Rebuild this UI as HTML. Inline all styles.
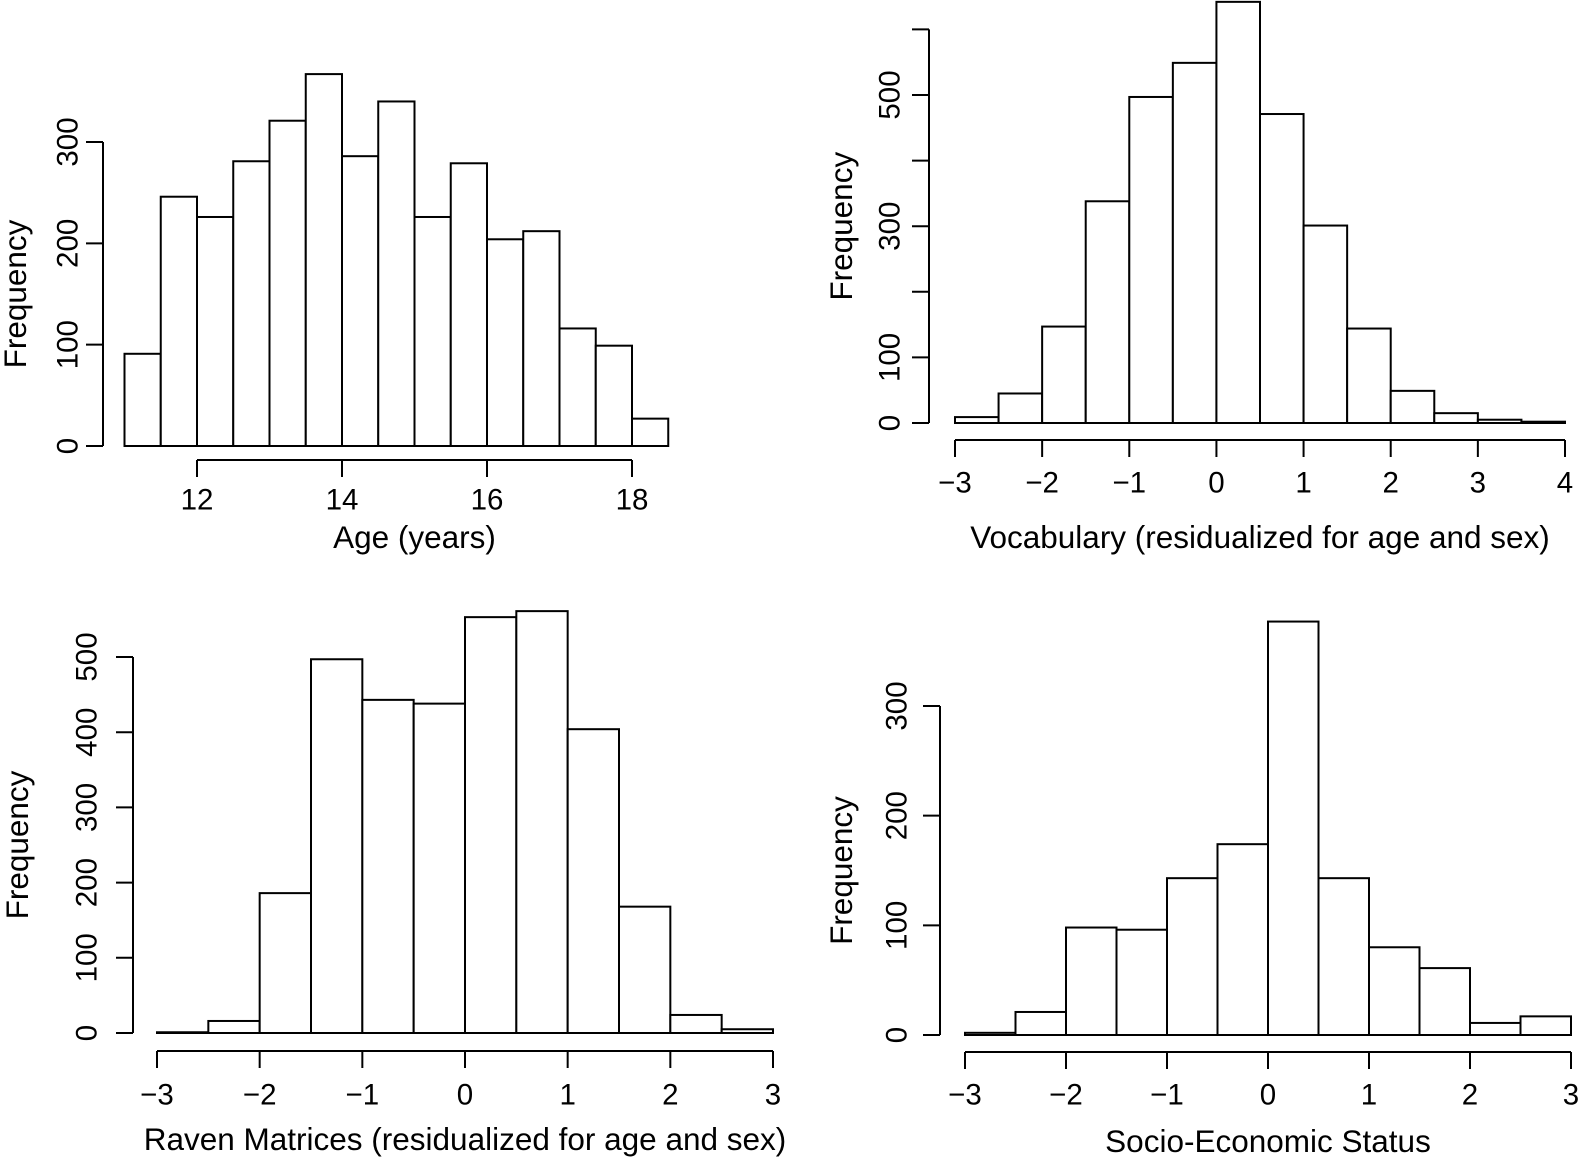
<!DOCTYPE html>
<html><head><meta charset="utf-8"><style>
html,body{margin:0;padding:0;background:#fff;}
svg{display:block;font-family:"Liberation Sans",Arial,sans-serif;}
text{font-size:29.5px;fill:#000;}
</style></head><body>
<svg id="s" width="1586" height="1158"></svg>
<script>
const ageBins=[11,11.5,12,12.5,13,13.5,14,14.5,15,15.5,16,16.5,17,17.5,18,18.5];
const ageCounts=[91,246,226,281,321,367,286,340,226,279,204,212,116,99,27];
const ageXTicks=[12,14,16,18];
const ageYTicks=[0,100,200,300];
const ageYLabels=[0,100,200,300];
const vocBins=[-3,-2.5,-2,-1.5,-1,-0.5,0,0.5,1,1.5,2,2.5,3,3.5,4];
const vocCounts=[9,45,147,338,497,549,642,471,301,144,49,15,5,2];
const vocXTicks=[-3,-2,-1,0,1,2,3,4];
const vocYTicks=[0,100,200,300,400,500,600];
const vocYLabels=[0,100,300,500];
const ravBins=[-3,-2.5,-2,-1.5,-1,-0.5,0,0.5,1,1.5,2,2.5,3];
const ravCounts=[1,16,186,497,443,438,553,561,404,168,24,5];
const ravXTicks=[-3,-2,-1,0,1,2,3];
const ravYTicks=[0,100,200,300,400,500];
const ravYLabels=[0,100,200,300,400,500];
const sesBins=[-3,-2.5,-2,-1.5,-1,-0.5,0,0.5,1,1.5,2,2.5,3];
const sesCounts=[2,21,98,96,143,174,377,143,80,61,11,17];
const sesXTicks=[-3,-2,-1,0,1,2,3];
const sesYTicks=[0,100,200,300];
const sesYLabels=[0,100,200,300];

const svg=document.getElementById('s');
const NS='http://www.w3.org/2000/svg';
function mk(tag,attrs,parent){const e=document.createElementNS(NS,tag);for(const k in attrs)e.setAttribute(k,attrs[k]);(parent||svg).appendChild(e);return e;}
function fmt(v){return v<0?'\u2212'+(-v):String(v);}

function panel(id,bins,counts,xt,yt,yl,p){
  const g=mk('g',{});
  
  
  const xs=v=>p.x0+(v-p.xv0)*(p.x1-p.x0)/(p.xv1-p.xv0);
  const ys=v=>p.y0-(v)*(p.y0-p.y1)/p.yv1;
  for(let i=0;i<counts.length;i++){
    const x=xs(bins[i]),w=xs(bins[i+1])-x,y=ys(counts[i]);
    const r=mk('rect',{x:x,y:y,width:w,height:p.y0-y,fill:'#fff',stroke:'#000','stroke-width':2},g);
    
    
  }
  const xa=mk('g',{},g);
  
  
  const ay=p.y0+p.axo;
  mk('line',{x1:xs(xt[0]),x2:xs(xt[xt.length-1]),y1:ay,y2:ay,stroke:'#000','stroke-width':2},xa);
  xt.forEach(v=>{
    mk('line',{x1:xs(v),x2:xs(v),y1:ay,y2:ay+17,stroke:'#000','stroke-width':2},xa);
    const t=mk('text',{x:xs(v),y:p.y0+p.lbo,'text-anchor':'middle','dominant-baseline':'central'},xa);t.textContent=fmt(v);
  });
  const tt=mk('text',{x:(xs(xt[0])+xs(xt[xt.length-1]))/2,y:p.y0+p.tto,'text-anchor':'middle','dominant-baseline':'central'},g);
  
  
  tt.style.fontSize='31.5px';
  tt.textContent=p.title;
  const ya=mk('g',{},g);
  
  
  mk('line',{x1:p.ax,x2:p.ax,y1:ys(yt[0]),y2:ys(yt[yt.length-1]),stroke:'#000','stroke-width':2},ya);
  yt.forEach(v=>{
    mk('line',{x1:p.ax,x2:p.ax-17,y1:ys(v),y2:ys(v),stroke:'#000','stroke-width':2},ya);
  });
  yl.forEach(v=>{
    const lx=p.ax-p.ylo;
    const t=mk('text',{x:lx,y:ys(v),'text-anchor':'middle','dominant-baseline':'central',transform:`rotate(-90 ${lx} ${ys(v)})`},ya);t.textContent=v;
  });
  const fx=p.ax-p.fo, fy=(ys(yt[0])+ys(yt[yt.length-1]))/2;
  const f=mk('text',{x:fx,y:fy,'text-anchor':'middle','dominant-baseline':'central',transform:`rotate(-90 ${fx} ${fy})`},g);
  
  
  f.style.fontSize='31.5px';
  f.textContent='Frequency';
}
panel('age',ageBins,ageCounts,ageXTicks,ageYTicks,ageYLabels,{x0:197,x1:632,xv0:12,xv1:18,y0:446,y1:142,yv1:300,ax:103,axo:14,lbo:54,tto:91,ylo:35,fo:88,title:'Age (years)'});
panel('vocabulary',vocBins,vocCounts,vocXTicks,vocYTicks,vocYLabels,{x0:955,x1:1565,xv0:-3,xv1:4,y0:423,y1:95,yv1:500,ax:929,axo:17,lbo:60,tto:114,ylo:39,fo:88,title:'Vocabulary (residualized for age and sex)'});
panel('raven',ravBins,ravCounts,ravXTicks,ravYTicks,ravYLabels,{x0:157,x1:773,xv0:-3,xv1:3,y0:1033,y1:657,yv1:500,ax:133,axo:18,lbo:62,tto:106,ylo:46,fo:116,title:'Raven Matrices (residualized for age and sex)'});
panel('ses',sesBins,sesCounts,sesXTicks,sesYTicks,sesYLabels,{x0:965,x1:1571,xv0:-3,xv1:3,y0:1035,y1:706,yv1:300,ax:940,axo:17,lbo:60,tto:106,ylo:43,fo:99,title:'Socio-Economic Status'});
</script>
</body></html>
